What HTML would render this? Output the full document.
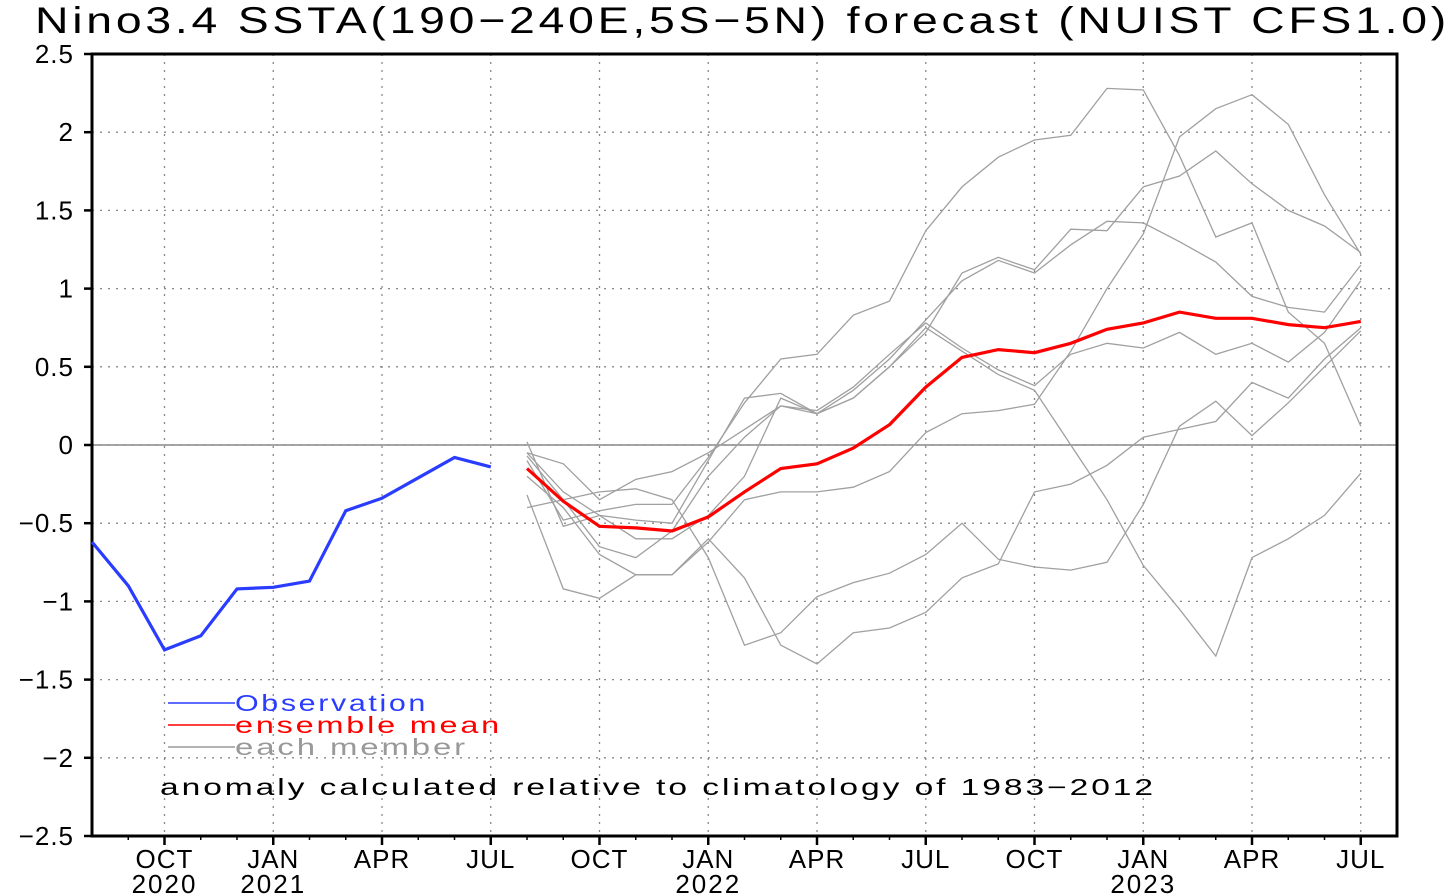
<!DOCTYPE html>
<html><head><meta charset="utf-8"><style>
html,body{margin:0;padding:0;background:#fff;}
svg{display:block;font-family:"Liberation Sans",sans-serif;}
</style></head><body>
<svg id="chart" width="1455" height="896" viewBox="0 0 1455 896">
<text x="35" y="33" font-size="37" letter-spacing="3" fill="#000" textLength="1415" lengthAdjust="spacingAndGlyphs">Nino3.4 SSTA(190−240E,5S−5N) forecast (NUIST CFS1.0)</text>
<g id="grid"></g>
<g id="axes"></g>
<g id="series"></g>
<g>
<line x1="168" y1="703" x2="235" y2="703" stroke="#2a3cff" stroke-width="1.5"/>
<text x="235" y="711" font-size="23" letter-spacing="2" fill="#2a3cff" textLength="193" lengthAdjust="spacingAndGlyphs">Observation</text>
<line x1="168" y1="725" x2="235" y2="725" stroke="#f00" stroke-width="1.5"/>
<text x="235" y="733" font-size="23" letter-spacing="2" fill="#f00" textLength="267" lengthAdjust="spacingAndGlyphs">ensemble  mean</text>
<line x1="168" y1="747" x2="235" y2="747" stroke="#999" stroke-width="1.5"/>
<text x="235" y="755" font-size="23" letter-spacing="2" fill="#999" textLength="233" lengthAdjust="spacingAndGlyphs">each  member</text>
</g>
<text x="160" y="795" font-size="23" letter-spacing="2" fill="#000" textLength="996" lengthAdjust="spacingAndGlyphs">anomaly  calculated  relative  to  climatology  of  1983−2012</text>
</svg>
<script>
const yTicks=[2.5,2,1.5,1,0.5,0,-0.5,-1,-1.5,-2,-2.5];
const yTickLabels=["2.5","2","1.5","1","0.5","0","−0.5","−1","−1.5","−2","−2.5"];
const xTickMonths=[2,5,8,11,14,17,20,23,26,29,32,35];
const xTickLabels=["OCT","JAN","APR","JUL","OCT","JAN","APR","JUL","OCT","JAN","APR","JUL"];
const xTickYears=["2020","2021","","","","2022","","","","2023","",""];
const obsStart=0;
const observation=[-0.62,-0.9,-1.31,-1.22,-0.92,-0.91,-0.87,-0.42,-0.34,-0.21,-0.08,-0.14];
const fcStart=12;
const ensembleMean=[-0.15,-0.36,-0.52,-0.53,-0.55,-0.46,-0.30,-0.15,-0.12,-0.02,0.13,0.37,0.56,0.61,0.59,0.65,0.74,0.78,0.85,0.81,0.81,0.77,0.75,0.79];
const memberA=[-0.05,-0.3,-0.45,-0.48,-0.5,-0.1,0.3,0.33,0.2,0.35,0.55,0.8,1.05,1.18,1.1,1.28,1.43,1.42,1.3,1.17,0.95,0.88,0.85,1.15];
const memberB=[-0.1,-0.48,-0.42,-0.38,-0.38,-0.08,0.27,0.55,0.58,0.83,0.92,1.37,1.65,1.84,1.95,1.98,2.28,2.27,1.85,1.33,1.42,0.85,0.65,0.12];
const memberC=[-0.07,-0.35,-0.65,-0.72,-0.55,-0.2,0.05,0.25,0.22,0.37,0.58,0.78,0.62,0.48,0.38,0.58,0.65,0.62,0.72,0.58,0.65,0.53,0.72,1.05];
const memberD=[0.02,-0.52,-0.45,-0.6,-0.6,-0.45,-0.2,0.3,0.2,0.3,0.5,0.75,0.6,0.45,0.35,0.0,-0.35,-0.77,-1.05,-1.35,-0.72,-0.6,-0.45,-0.18];
const memberE=[-0.32,-0.92,-0.98,-0.83,-0.83,-0.6,-0.85,-1.28,-1.4,-1.2,-1.17,-1.07,-0.85,-0.76,-0.3,-0.25,-0.13,0.05,0.1,0.15,0.4,0.3,0.55,0.75];
const memberF=[-0.4,-0.35,-0.3,-0.28,-0.35,-0.72,-1.28,-1.2,-0.97,-0.88,-0.82,-0.7,-0.5,-0.73,-0.78,-0.8,-0.75,-0.38,0.12,0.28,0.06,0.27,0.5,0.73];
const memberG=[-0.2,-0.4,-0.7,-0.83,-0.83,-0.62,-0.35,-0.3,-0.3,-0.27,-0.17,0.08,0.2,0.22,0.26,0.6,1.0,1.35,1.97,2.15,2.24,2.05,1.6,1.22];
const memberH=[-0.05,-0.12,-0.35,-0.22,-0.17,-0.05,0.1,0.25,0.2,0.3,0.5,0.72,1.1,1.2,1.12,1.38,1.37,1.65,1.72,1.88,1.67,1.5,1.4,1.23];
const members=[memberA,memberB,memberC,memberD,memberE,memberF,memberG,memberH];

const L=92,R=1397,T=54,B=836,nMonths=36,yMin=-2.5,yMax=2.5;
const xs=m=>L+(R-L)*m/nMonths;
const ys=v=>B-(B-T)*(v-yMin)/(yMax-yMin);
const NS="http://www.w3.org/2000/svg";
function mk(tag,attrs,parent){const e=document.createElementNS(NS,tag);for(const k in attrs)e.setAttribute(k,attrs[k]);parent.appendChild(e);return e;}
const grid=document.getElementById('grid'),axes=document.getElementById('axes'),series=document.getElementById('series');

yTicks.forEach((v,i)=>{
  if(v>yMin&&v<yMax){const g=mk('line',{x1:L,x2:R,y1:ys(v),y2:ys(v),stroke:'#888','stroke-width':1.3,'stroke-dasharray':'2,6'},grid);
  
  }
  const t=mk('line',{x1:L-8,x2:L,y1:ys(v),y2:ys(v),stroke:'#000','stroke-width':2.5},axes);
  
  
  const tx=mk('text',{x:L-18,y:ys(v)+9,'text-anchor':'end','font-size':26,'letter-spacing':1,fill:'#000'},axes);
  tx.textContent=yTickLabels[i];
  
  
});
for(let m=1;m<nMonths;m++){
  const t=mk('line',{x1:xs(m),x2:xs(m),y1:B,y2:B+4,stroke:'#000','stroke-width':1.5},axes);
  
  
}
xTickMonths.forEach((m,i)=>{
  const g=mk('line',{x1:xs(m),x2:xs(m),y1:T,y2:B,stroke:'#888','stroke-width':1.3,'stroke-dasharray':'2,6'},grid);
  
  
  const t=mk('line',{x1:xs(m),x2:xs(m),y1:B,y2:B+9,stroke:'#000','stroke-width':2.5},axes);
  
  
  const tx=mk('text',{x:xs(m),y:B+32,'text-anchor':'middle','font-size':26,'letter-spacing':1,fill:'#000'},axes);
  tx.textContent=xTickLabels[i];
  
  
  if(xTickYears[i]){const ty=mk('text',{x:xs(m),y:B+57,'text-anchor':'middle','font-size':26,'letter-spacing':2,fill:'#000'},axes);
  ty.textContent=xTickYears[i];
  
  }
});
const zl=mk('line',{x1:L,x2:R,y1:ys(0),y2:ys(0),stroke:'#888','stroke-width':1.5},grid);


const fr=mk('rect',{x:L,y:T,width:R-L,height:B-T,fill:'none',stroke:'#000','stroke-width':3},axes);



function pts(arr,start){return arr.map((v,i)=>xs(start+i).toFixed(1)+','+ys(v).toFixed(1)).join(' ');}
members.forEach((mem,i)=>{
  const p=mk('polyline',{points:pts(mem,fcStart),fill:'none',stroke:'#a0a0a0','stroke-width':1.3},series);
  
  
});
const em=mk('polyline',{points:pts(ensembleMean,fcStart),fill:'none',stroke:'#f00','stroke-width':3.2},series);


const ob=mk('polyline',{points:pts(observation,obsStart),fill:'none',stroke:'#2a3cff','stroke-width':3.2},series);


</script>
</body></html>
